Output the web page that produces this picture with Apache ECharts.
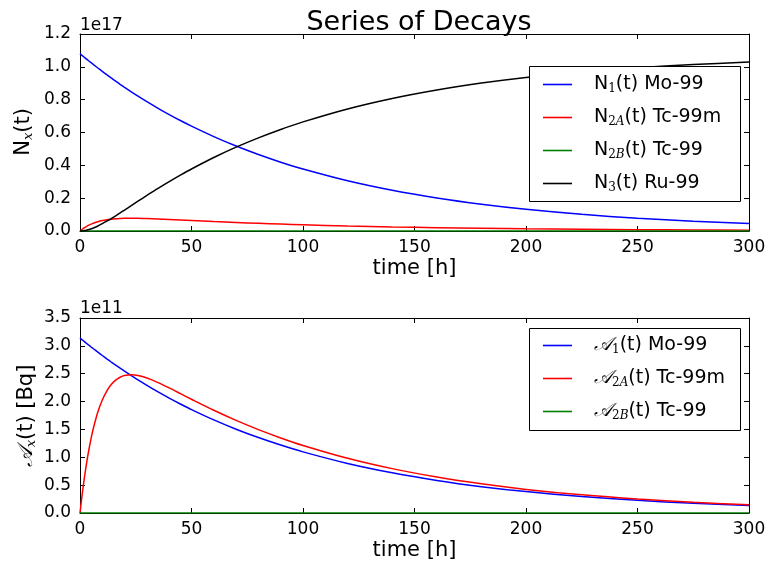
<!DOCTYPE html>
<html><head><meta charset="utf-8">
<script src="https://cdn.jsdelivr.net/npm/echarts@6/dist/echarts.min.js"></script>
<style>html,body{margin:0;padding:0;background:#fff}#c{width:769px;height:564px}</style>
</head><body><div id="c"></div>
<script>
// time in hours
const time = [0,1,2,3,4,5,6,8,10,12,14,16,18,20,23,26,30,35,40,45,50,60,70,80,90,100,120,140,160,180,200,225,250,275,300];
// numbers of nuclei, units of 1e17
const n1  = [1.080,1.0687,1.0575,1.0465,1.0355,1.0247,1.0140,0.9929,0.9722,0.9520,0.9322,0.9128,0.8938,0.8752,0.8480,0.8217,0.7879,0.7475,0.7093,0.6729,0.6385,0.5748,0.5174,0.4658,0.4193,0.3775,0.3059,0.2479,0.2009,0.1628,0.1319,0.1014,0.0780,0.0600,0.0461];
const n2a = [0,0.01067,0.02006,0.02832,0.03557,0.04192,0.04747,0.05652,0.06332,0.06833,0.07194,0.07443,0.07605,0.07699,0.07741,0.07701,0.07561,0.07306,0.07006,0.06688,0.06369,0.05754,0.05186,0.04671,0.04205,0.03786,0.03068,0.02486,0.02015,0.01633,0.01323,0.01017,0.00782,0.00602,0.00462];
const n2b = [0,0,0,0,0,0,0,0,0,0,0,0,0,0,0,0,0,0,0,0,0,0,0,0,0,0,0,0,0,0,0,0,0,0,0];
const n3  = [0,0.00063,0.00244,0.00518,0.00893,0.01338,0.01853,0.03058,0.04448,0.05967,0.07586,0.09277,0.11015,0.12781,0.15459,0.18129,0.21649,0.25944,0.30064,0.34022,0.37781,0.44766,0.51074,0.56749,0.61865,0.66464,0.74342,0.80724,0.85895,0.90087,0.93487,0.96843,0.99418,1.01398,1.02928];
// activities, units of 1e11 Bq
const a1  = [3.140,3.107,3.075,3.043,3.011,2.979,2.948,2.887,2.827,2.768,2.710,2.654,2.599,2.545,2.466,2.389,2.291,2.173,2.062,1.957,1.856,1.671,1.504,1.354,1.219,1.097,0.889,0.721,0.584,0.473,0.384,0.295,0.227,0.174,0.134];
const a2a = [0,0.3417,0.6427,0.9073,1.1396,1.3431,1.5211,1.8111,2.0289,2.1895,2.3050,2.3849,2.4368,2.4668,2.4805,2.4674,2.4227,2.3408,2.2448,2.1431,2.0409,1.8436,1.6617,1.4965,1.3475,1.2130,0.9830,0.7966,0.6456,0.5232,0.4239,0.3260,0.2506,0.1927,0.1482];
const a2b = [0,0,0,0,0,0,0,0,0,0,0,0,0,0,0,0,0,0,0,0,0,0,0,0,0,0,0,0,0,0,0,0,0,0,0];
const xTicks = {min:0, max:300, interval:50};
const yTop = {min:0, max:1.2, interval:0.2};
const yBot = {min:0, max:3.5, interval:0.5};

const FONT = 'DejaVu Sans';
const pairs = ys => time.map((t,i)=>[t, ys[i]]);
const CAL = '\u{1D49C}';

const chart = echarts.init(document.getElementById('c'), null, {renderer:'canvas'});

function xAx(gi, pos){
  const show = pos==='bottom';
  return {type:'value', gridIndex:gi, position:pos, min:xTicks.min, max:xTicks.max, interval:xTicks.interval,
    axisLine:{show:true, onZero:false, lineStyle:{color:'#000', width:1}},
    axisTick:{show:true, inside:true, length:5, lineStyle:{color:'#000'}},
    axisLabel:{show:show, color:'#000', fontFamily:FONT, fontSize:17, margin:8},
    splitLine:{show:false},
    name: show ? 'time [h]' : '', nameLocation:'middle', nameGap:27,
    nameTextStyle:{color:'#000', fontFamily:FONT, fontSize:21}};
}
function yAx(gi, pos, r){
  const show = pos==='left';
  return {type:'value', gridIndex:gi, position:pos, min:r.min, max:r.max, interval:r.interval,
    axisLine:{show:true, onZero:false, lineStyle:{color:'#000', width:1}},
    axisTick:{show:true, inside:true, length:5, lineStyle:{color:'#000'}},
    axisLabel:{show:show, color:'#000', fontFamily:FONT, fontSize:17, margin:9, formatter:v=>v.toFixed(1)},
    splitLine:{show:false}};
}
function ser(name, data, color, xi, yi){
  return {name, type:'line', xAxisIndex:xi, yAxisIndex:yi, data:pairs(data), showSymbol:false, symbol:'none',
    smooth:0.3, lineStyle:{color, width:1.5}, itemStyle:{color}, animation:false, z:3};
}
const legendRich = {
  b:{fontFamily:FONT, fontSize:19, color:'#000', lineHeight:20},
  d:{fontFamily:'DejaVu Serif', fontSize:12, color:'#000', lineHeight:20, padding:[9,0,0,0]},
  s:{fontFamily:'DejaVu Serif', fontStyle:'italic', fontSize:12, color:'#000', lineHeight:20, padding:[9,0,0,0]},
  c:{fontFamily:'DejaVu Serif', fontStyle:'italic', fontSize:19, color:'#000', lineHeight:20}
};
const labels = {
  'N1':'{b|N}{d|1}{b|(t) Mo-99}',
  'N2A':'{b|N}{d|2}{s|A}{b|(t) Tc-99m}',
  'N2B':'{b|N}{d|2}{s|B}{b|(t) Tc-99}',
  'N3':'{b|N}{d|3}{b|(t) Ru-99}',
  'A1':'{c|'+CAL+'}{d|1}{b|(t) Mo-99}',
  'A2A':'{c|'+CAL+'}{d|2}{s|A}{b|(t) Tc-99m}',
  'A2B':'{c|'+CAL+'}{d|2}{s|B}{b|(t) Tc-99}'
};
function leg(data, top){
  return {data, orient:'vertical', left:543, top, itemWidth:29, itemHeight:1.6, icon:'rect', itemGap:12,
    padding:0, selectedMode:false, formatter:n=>labels[n], z:20,
    textStyle:{rich:legendRich, padding:[0,0,0,17]}};
}

chart.setOption({
  animation:false,
  backgroundColor:'#fff',
  title:{text:'Series of Decays', left:414, top:4, textAlign:'center',
    textStyle:{fontFamily:FONT, fontSize:27, fontWeight:'normal', color:'#000'}},
  grid:[{left:80, right:20, top:34, height:197}, {left:80, right:20, top:318, height:195}],
  xAxis:[xAx(0,'bottom'), xAx(0,'top'), xAx(1,'bottom'), xAx(1,'top')],
  yAxis:[yAx(0,'left',yTop), yAx(0,'right',yTop), yAx(1,'left',yBot), yAx(1,'right',yBot)],
  legend:[leg(['N1','N2A','N2B','N3'], 74), leg(['A1','A2A','A2B'], 335)],
  series:[
    ser('N1', n1, '#0000ff', 0, 0),
    ser('N2A', n2a, '#ff0000', 0, 0),
    ser('N2B', n2b, '#008000', 0, 0),
    ser('N3', n3, '#000000', 0, 0),
    ser('A1', a1, '#0000ff', 2, 2),
    ser('A2A', a2a, '#ff0000', 2, 2),
    ser('A2B', a2b, '#008000', 2, 2)
  ],
  graphic:[
    {type:'rect', z:10, shape:{x:529.5, y:66.5, width:211, height:135}, style:{fill:'#fff', stroke:'#000', lineWidth:1}},
    {type:'rect', z:10, shape:{x:529.5, y:328.5, width:211, height:102}, style:{fill:'#fff', stroke:'#000', lineWidth:1}},
    {type:'text', x:80, y:26, style:{text:'1e17', fontFamily:FONT, fontSize:17, fill:'#000', verticalAlign:'middle'}},
    {type:'text', x:80, y:309, style:{text:'1e11', fontFamily:FONT, fontSize:17, fill:'#000', verticalAlign:'middle'}},
    {type:'text', x:24, y:132, rotation:Math.PI/2, style:{text:'{b|N}{s|x}{b|(t)}', align:'center', verticalAlign:'middle',
      rich:{b:{fontFamily:FONT, fontSize:21, fill:'#000', lineHeight:22}, s:{fontFamily:'DejaVu Serif', fontStyle:'italic', fontSize:13, fill:'#000', lineHeight:22, padding:[10,0,0,0]}}}},
    {type:'text', x:27, y:416, rotation:Math.PI/2, style:{text:'{c|'+CAL+'}{s|x}{b|(t) [Bq]}', align:'center', verticalAlign:'middle',
      rich:{b:{fontFamily:FONT, fontSize:21, fill:'#000', lineHeight:22}, c:{fontFamily:'DejaVu Serif', fontStyle:'italic', fontSize:21, fill:'#000', lineHeight:22}, s:{fontFamily:'DejaVu Serif', fontStyle:'italic', fontSize:13, fill:'#000', lineHeight:22, padding:[10,0,0,0]}}}}
  ]
});
</script>
</body></html>
